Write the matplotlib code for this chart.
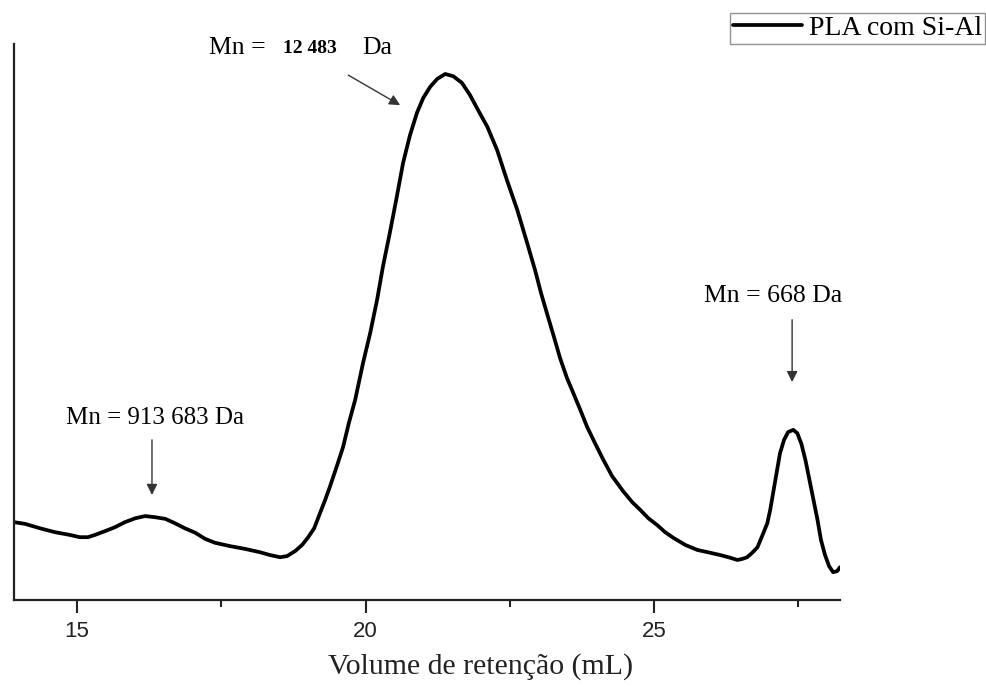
import matplotlib
matplotlib.use("Agg")
import matplotlib.pyplot as plt
from matplotlib.ticker import MultipleLocator

# GPC chromatogram of PLA synthesised with Si-Al catalyst
volume_ml = [
    13.91, 14.10, 14.36, 14.62, 14.88, 15.05, 15.19, 15.31, 15.49, 15.66,
    15.83, 16.01, 16.18, 16.35, 16.53, 16.70, 16.87, 17.05, 17.22, 17.39,
    17.65, 17.91, 18.17, 18.34, 18.52, 18.64, 18.78, 18.90, 19.00, 19.11,
    19.21, 19.30, 19.38, 19.51, 19.61, 19.71, 19.82, 19.96, 20.08, 20.20,
    20.30, 20.42, 20.53, 20.65, 20.77, 20.89, 21.00, 21.12, 21.24, 21.38,
    21.52, 21.67, 21.81, 21.95, 22.11, 22.28, 22.45, 22.63, 22.80, 22.94,
    23.04, 23.15, 23.27, 23.37, 23.49, 23.60, 23.72, 23.84, 23.98, 24.12,
    24.27, 24.46, 24.62, 24.76, 24.90, 25.05, 25.19, 25.33, 25.54, 25.75,
    25.97, 26.14, 26.32, 26.44, 26.53, 26.61, 26.70, 26.79, 26.87, 26.96,
    27.01, 27.06, 27.13, 27.18, 27.25, 27.32, 27.41, 27.48, 27.55, 27.62,
    27.69, 27.76, 27.83, 27.89, 27.96, 28.03, 28.10, 28.17, 28.22,
]
signal = [
    14.0, 13.7, 12.9, 12.2, 11.7, 11.3, 11.3, 11.7, 12.4, 13.1,
    14.0, 14.7, 15.1, 14.9, 14.6, 13.8, 12.9, 12.1, 11.0, 10.3,
    9.7, 9.2, 8.6, 8.1, 7.7, 7.9, 8.8, 9.9, 11.2, 12.9,
    15.6, 18.0, 20.3, 24.3, 27.5, 31.8, 36.0, 42.8, 48.0, 54.0,
    59.9, 66.0, 71.9, 78.6, 83.6, 87.6, 90.3, 92.3, 93.7, 94.6,
    94.2, 93.0, 90.8, 88.1, 85.1, 80.9, 75.5, 70.1, 64.2, 59.2,
    55.2, 51.3, 47.1, 43.5, 39.9, 37.2, 34.2, 31.1, 28.1, 25.2,
    22.3, 19.6, 17.6, 16.2, 14.7, 13.5, 12.2, 11.2, 9.9, 9.0,
    8.5, 8.1, 7.6, 7.2, 7.4, 7.7, 8.5, 9.5, 11.5, 13.8,
    16.2, 19.2, 23.4, 26.4, 28.8, 30.2, 30.6, 30.0, 28.1, 25.2,
    21.6, 18.0, 14.4, 10.8, 8.1, 6.1, 5.0, 5.2, 5.9,
]
series_label = "PLA com Si-Al"
x_label = "Volume de retenção (mL)"
x_ticks = [15, 20, 25]

serif = ["Liberation Serif", "DejaVu Serif"]
sans = ["Liberation Sans", "DejaVu Sans"]

fig = plt.figure(figsize=(9.87, 6.87), dpi=100)
ax = fig.add_axes([0.0142, 0.1266, 0.8369, 0.8094])

ax.plot(volume_ml, signal, color="black", lw=2.7, solid_capstyle="round",
        solid_joinstyle="round", label=series_label)

ax.set_xlim(13.91, 28.22)
ax.set_ylim(0, 100)

for side in ("top", "right"):
    ax.spines[side].set_visible(False)
for side in ("left", "bottom"):
    ax.spines[side].set_linewidth(1.6)
    ax.spines[side].set_color("#222222")

ax.set_yticks([])
ax.set_xticks(x_ticks)
ax.xaxis.set_minor_locator(MultipleLocator(2.5))
ax.tick_params(axis="x", which="major", direction="out", length=9, width=1.5,
               pad=6, labelsize=16, colors="#222222")
ax.tick_params(axis="x", which="minor", direction="out", length=5, width=1.5,
               colors="#222222")
for lbl in ax.get_xticklabels():
    lbl.set_family(sans)

ax.set_xlabel(x_label, family=serif, fontsize=21.5, color="#222222")
ax.xaxis.set_label_coords(0.565, -0.095)

# molecular-weight annotations
arrow_style = dict(arrowstyle="-|>", color="#333333", lw=1.0,
                   mutation_scale=16, shrinkA=0, shrinkB=0)

ax.text(16.35, 32.7, "Mn = 913 683 Da", family=serif, fontsize=18,
        ha="center", va="center")
ax.annotate("", xy=(16.30, 18.9), xytext=(16.30, 28.8), arrowprops=arrow_style)

ax.text(27.06, 54.7, "Mn = 668 Da", family=serif, fontsize=18.5,
        ha="center", va="center")
ax.annotate("", xy=(27.39, 39.2), xytext=(27.39, 50.4), arrowprops=arrow_style)

ax.text(17.29, 99.3, "Mn =", family=serif, fontsize=18.5,
        ha="left", va="center", clip_on=False)
ax.text(18.57, 99.1, "12 483", family=serif, fontsize=14,
        fontweight="bold", ha="left", va="center", clip_on=False)
ax.text(19.94, 99.3, "Da", family=serif, fontsize=18.5,
        ha="left", va="center", clip_on=False)
ax.annotate("", xy=(20.60, 89.0), xytext=(19.70, 94.4), arrowprops=arrow_style)

leg = ax.legend(loc="upper right", bbox_to_anchor=(985 / 987, 1 - 13 / 687),
                bbox_transform=fig.transFigure, borderaxespad=0,
                frameon=True, fancybox=False, handlelength=2.5,
                handletextpad=0.25, borderpad=0.1,
                prop={"family": serif, "size": 20})
leg.get_frame().set_edgecolor("#777777")
leg.get_frame().set_linewidth(1.0)

fig.savefig("out.png", dpi=100, facecolor="white")
